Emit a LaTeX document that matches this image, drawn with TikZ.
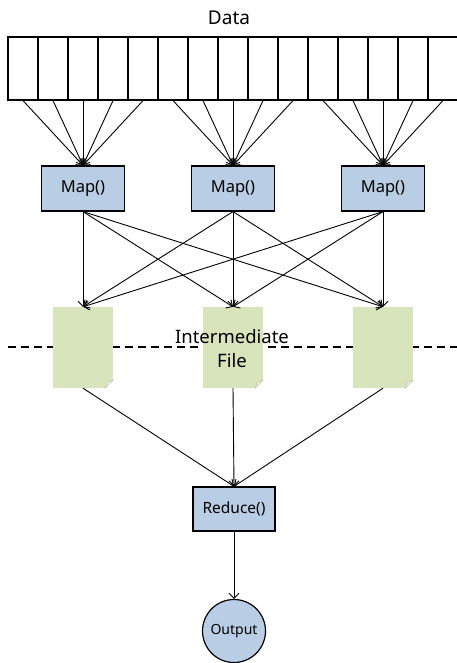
\documentclass[tikz,border=0pt]{standalone}
\usepackage{fontspec}
\setmainfont{Noto Sans}
\usetikzlibrary{arrows.meta}
\definecolor{mapblue}{RGB}{185,205,228}
\definecolor{filegreen}{RGB}{215,228,188}
\definecolor{foldgreen}{RGB}{238,243,226}
\newcommand{\fsz}[1]{\fontsize{#1}{#1}\selectfont}

\begin{document}
\begin{tikzpicture}[x=1pt, y=-1pt, every node/.style={font=\fsz{16.5}, inner sep=0pt},
      cell/.style={draw, line width=1.2pt, minimum width=30pt, minimum height=63pt},
      fn/.style={draw, line width=1.2pt, fill=mapblue, minimum width=83pt, minimum height=45pt},
      file/.style={fill=filegreen, minimum width=60pt, minimum height=81pt},
      ar/.style={-{Straight Barb[length=5pt, width=10pt]}, line width=0.9pt}]
    \useasboundingbox (0,0) rectangle (457,663);
    \node[font=\fsz{19}] (data) at (229,18) {Data};
    \foreach \i in {1,...,15} \node[cell] (c\i) at ({30*\i-7},68.5) {};
    \foreach \j in {1,2,3} {
      \node[fn] (m\j) at ({150*\j-67},188.5) {Map()};
      \pgfmathtruncatemacro{\lo}{5*\j-4}
      \pgfmathtruncatemacro{\hi}{5*\j}
      \foreach \k in {\lo,...,\hi} \draw[ar] (c\k.south) -- (m\j.north);
    }
    \coordinate (dl) at (8,347); \coordinate (dr) at (458,347);
    \draw[line width=2.2pt, dash pattern=on 8pt off 5pt] (dl) -- (dr);
    \foreach \k in {1,2,3} {
      \node[file] (f\k) at ({150*\k-67},347.5) {};
      \fill[white] ([xshift=-8pt]f\k.south east) -- (f\k.south east) -- ([yshift=8pt]f\k.south east) -- cycle;
      \filldraw[fill=foldgreen, draw=filegreen!80!black, line width=0.3pt]
        ([xshift=-8pt]f\k.south east) -- ([yshift=8pt]f\k.south east) -- ([xshift=-6pt, yshift=6pt]f\k.south east) -- cycle;
    }
    \node[font=\fsz{18.5}, align=center] (mid) at (232,348.5) {Intermediate\\[6pt]File};
    \foreach \j in {1,2,3} \foreach \k in {1,2,3} \draw[ar] (m\j.south) -- (f\k.north);
    \node[fn, minimum width=82pt, minimum height=44pt, font=\fsz{15.5}] (r) at (234,509) {Reduce()};
    \node[draw, circle, line width=1.2pt, fill=mapblue, minimum size=63pt, font=\fsz{14}] (out) at (234,631) {Output};
    \foreach \k in {1,2,3} \draw[ar] (f\k.south) -- (r.north);
    \draw[ar] (r) -- (out);
  \end{tikzpicture}
\end{document}
